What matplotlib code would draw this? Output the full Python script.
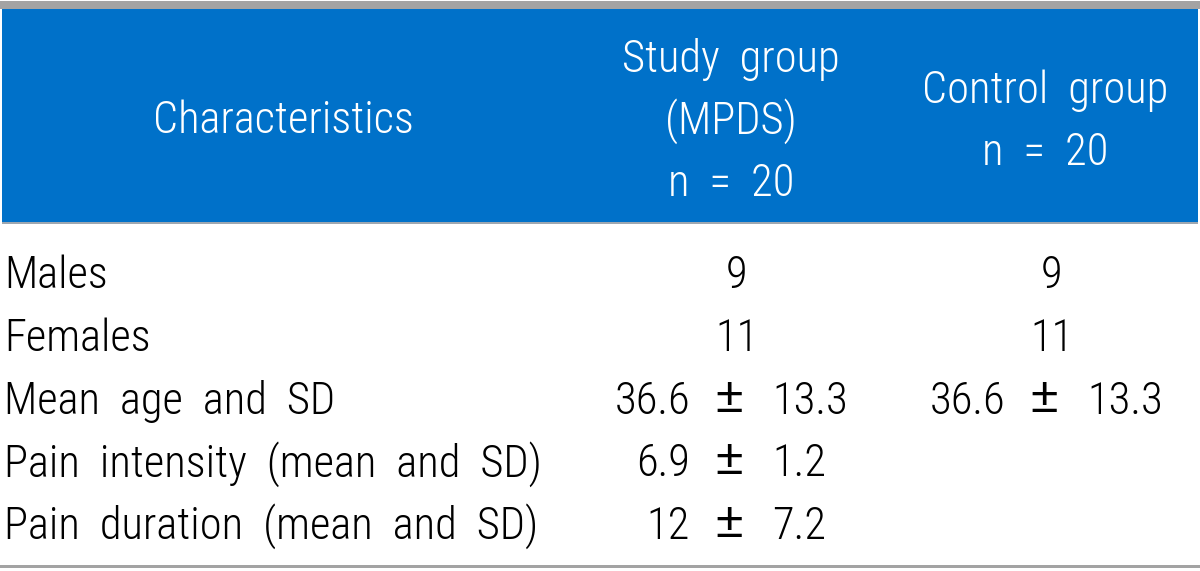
import matplotlib.pyplot as plt
from matplotlib.patches import Rectangle

plt.rcParams['font.family'] = ['Roboto Condensed', 'Archivo Narrow', 'Liberation Sans', 'DejaVu Sans']
plt.rcParams['font.weight'] = 'light'

header_first = "Characteristics"
header_study = ["Study  group", "(MPDS)", "n  =  20"]
header_control = ["Control  group", "n  =  20"]

row_labels = ["Males", "Females", "Mean  age  and  SD",
              "Pain  intensity  (mean  and  SD)", "Pain  duration  (mean  and  SD)"]
study_mean = ["9", "11", "36.6", "6.9", "12"]
study_sd = [None, None, "13.3", "1.2", "7.2"]
control_mean = ["9", "11", "36.6", None, None]
control_sd = [None, None, "13.3", None, None]

blue = '#0071C9'
gray = '#A3A3A3'
fs = 32

fig = plt.figure(figsize=(12, 5.71), dpi=100)
ax = fig.add_axes([0, 0, 1, 1])
ax.set_xlim(0, 1200)
ax.set_ylim(571, 0)
ax.axis('off')

# header band
ax.add_patch(Rectangle((0, 1), 1200, 8, color=gray, lw=0))
ax.add_patch(Rectangle((2, 9), 1196, 213, color=blue, lw=0))
ax.add_patch(Rectangle((2, 222), 1196, 2, color='#9EA7B0', lw=0))
ax.add_patch(Rectangle((0, 565), 1200, 2.5, color=gray, lw=0))

ax.text(283, 133, header_first, color='white', fontsize=fs, ha='center', va='baseline')
for i, s in enumerate(header_study):
    ax.text(731, 72 + i * 62, s, color='white', fontsize=fs, ha='center', va='baseline')
for i, s in enumerate(header_control):
    ax.text(1045, 103 + i * 62, s, color='white', fontsize=fs, ha='center', va='baseline')


def value_cell(x_pm, mean, sd, y):
    if sd is None:
        ax.text(x_pm + 8, y, mean, fontsize=fs, ha='center', va='baseline')
    else:
        ax.text(x_pm - 39, y, mean, fontsize=fs, ha='right', va='baseline')
        ax.text(x_pm, y - 2, "\u00b1", fontsize=fs * 1.12, ha='center', va='baseline',
                family=['Liberation Sans', 'DejaVu Sans'], fontweight='normal')
        ax.text(x_pm + 43, y, sd, fontsize=fs, ha='left', va='baseline')


for i, lab in enumerate(row_labels):
    y = 288 + i * 62.8
    ax.text(4, y, lab, fontsize=fs, ha='left', va='baseline')
    if study_mean[i] is not None:
        value_cell(729, study_mean[i], study_sd[i], y)
    if control_mean[i] is not None:
        value_cell(1044, control_mean[i], control_sd[i], y)

fig.savefig('out.png', dpi=100)
